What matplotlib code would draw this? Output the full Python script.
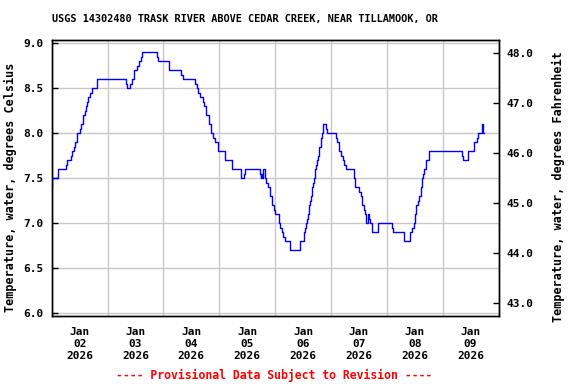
import matplotlib
matplotlib.use("Agg")
import matplotlib.pyplot as plt
import pandas as pd

# change points of the 15-minute record (value holds until next time)
times = [
    "01-02 00:00", "01-02 00:15", "01-02 02:30", "01-02 02:45", "01-02 06:00", "01-02 06:30",
    "01-02 08:15", "01-02 08:45", "01-02 09:30", "01-02 10:00", "01-02 11:00", "01-02 12:00",
    "01-02 12:45", "01-02 13:15", "01-02 14:30", "01-02 14:45", "01-02 15:15", "01-02 15:45",
    "01-02 16:30", "01-02 17:30", "01-02 19:30", "01-03 08:00", "01-03 08:30", "01-03 09:45",
    "01-03 10:30", "01-03 11:30", "01-03 12:45", "01-03 13:30", "01-03 14:15", "01-03 14:45",
    "01-03 21:15", "01-03 21:45", "01-04 02:30", "01-04 07:45", "01-04 08:15", "01-04 13:30",
    "01-04 14:15", "01-04 15:00", "01-04 15:45", "01-04 17:00", "01-04 17:30", "01-04 18:15",
    "01-04 19:30", "01-04 20:30", "01-04 21:30", "01-04 22:00", "01-04 23:30", "01-05 02:30",
    "01-05 05:30", "01-05 09:15", "01-05 10:30", "01-05 11:00", "01-05 17:30", "01-05 17:45",
    "01-05 18:00", "01-05 18:30", "01-05 18:45", "01-05 19:45", "01-05 20:00", "01-05 20:45",
    "01-05 21:45", "01-05 22:30", "01-05 23:30", "01-06 00:00", "01-06 01:30", "01-06 01:45",
    "01-06 02:15", "01-06 02:45", "01-06 03:30", "01-06 04:15", "01-06 06:15", "01-06 10:30",
    "01-06 12:15", "01-06 12:45", "01-06 13:15", "01-06 13:45", "01-06 14:00", "01-06 14:30",
    "01-06 14:45", "01-06 15:00", "01-06 15:30", "01-06 15:45", "01-06 16:00", "01-06 16:15",
    "01-06 16:30", "01-06 17:00", "01-06 17:15", "01-06 17:30", "01-06 18:00", "01-06 18:30",
    "01-06 18:45", "01-06 19:00", "01-06 19:30", "01-06 19:45", "01-06 20:15", "01-06 20:30",
    "01-06 20:45", "01-06 21:45", "01-06 22:30", "01-07 02:00", "01-07 02:30", "01-07 03:15",
    "01-07 04:30", "01-07 05:00", "01-07 05:45", "01-07 06:30", "01-07 09:45", "01-07 10:30",
    "01-07 12:00", "01-07 12:45", "01-07 13:30", "01-07 14:15", "01-07 14:30", "01-07 15:00",
    "01-07 15:45", "01-07 16:30", "01-07 16:45", "01-07 17:45", "01-07 20:00", "01-08 02:15",
    "01-08 02:45", "01-08 07:30", "01-08 09:45", "01-08 10:45", "01-08 11:30", "01-08 12:00",
    "01-08 12:45", "01-08 13:30", "01-08 13:45", "01-08 14:30", "01-08 15:00", "01-08 15:30",
    "01-08 16:00", "01-08 17:00", "01-08 18:15", "01-09 08:15", "01-09 08:45", "01-09 11:00",
    "01-09 13:30", "01-09 14:45", "01-09 15:15", "01-09 16:45", "01-09 17:15", "01-09 17:45",
]
temp_c = [
    7.4, 7.5, 7.55, 7.6, 7.65, 7.7, 7.75, 7.8, 7.85, 7.9, 8.0, 8.05,
    8.1, 8.2, 8.25, 8.3, 8.35, 8.4, 8.45, 8.5, 8.6, 8.55, 8.5, 8.55,
    8.6, 8.7, 8.75, 8.8, 8.85, 8.9, 8.85, 8.8, 8.7, 8.65, 8.6, 8.55,
    8.5, 8.45, 8.4, 8.35, 8.3, 8.2, 8.1, 8.0, 7.95, 7.9, 7.8, 7.7,
    7.6, 7.5, 7.55, 7.6, 7.55, 7.5, 7.55, 7.5, 7.6, 7.5, 7.45, 7.4,
    7.3, 7.2, 7.15, 7.1, 7.05, 7.0, 6.95, 6.9, 6.85, 6.8, 6.7, 6.8,
    6.9, 6.95, 7.0, 7.05, 7.1, 7.15, 7.2, 7.25, 7.3, 7.35, 7.4, 7.45,
    7.5, 7.55, 7.6, 7.65, 7.7, 7.75, 7.8, 7.85, 7.9, 7.95, 8.0, 8.05,
    8.1, 8.05, 8.0, 7.95, 7.9, 7.8, 7.75, 7.7, 7.65, 7.6, 7.5, 7.4,
    7.35, 7.3, 7.2, 7.15, 7.1, 7.0, 7.1, 7.05, 7.0, 6.9, 7.0, 6.95,
    6.9, 6.8, 6.9, 6.95, 7.0, 7.1, 7.2, 7.25, 7.3, 7.4, 7.5, 7.55,
    7.6, 7.7, 7.8, 7.75, 7.7, 7.8, 7.9, 7.95, 8.0, 8.1, 8.0, 8.0,
]
day_labels = ["Jan\n02\n2026", "Jan\n03\n2026", "Jan\n04\n2026", "Jan\n05\n2026",
              "Jan\n06\n2026", "Jan\n07\n2026", "Jan\n08\n2026", "Jan\n09\n2026"]
c_ticks = [6.0, 6.5, 7.0, 7.5, 8.0, 8.5, 9.0]
f_ticks = [43.0, 44.0, 45.0, 46.0, 47.0, 48.0]

t = pd.to_datetime(["2026-" + s for s in times])
plt.rcParams["font.family"] = "DejaVu Sans Mono"
plt.rcParams["font.weight"] = "bold"

fig = plt.figure(figsize=(5.76, 3.84), dpi=100)
ax = fig.add_axes([0.0898, 0.1771, 0.7757, 0.7188])
ax.plot(t, temp_c, drawstyle="steps-post", color="#0000ff", lw=1.0, zorder=3)

x0, x1 = pd.Timestamp("2026-01-02"), pd.Timestamp("2026-01-10")
ax.set_xlim(x0, x1)
ylo, yhi = 5.97, 9.037
ax.set_ylim(ylo, yhi)

# gridlines at midnight, date labels centred on each day
days = pd.date_range(x0, x1, freq="D")
ax.set_xticks(days)
ax.set_xticklabels([])
ax.set_xticks(days[:-1] + pd.Timedelta(hours=12), minor=True)
ax.set_xticklabels(day_labels, minor=True, fontsize=8, fontweight="bold", linespacing=1.25)
ax.tick_params(axis="x", which="both", length=0, pad=8)
ax.grid(True, axis="x", which="major", color="#c8c8c8", lw=1)

ax.set_yticks(c_ticks)
ax.set_yticklabels([f"{v:.1f}" for v in c_ticks], fontsize=8, fontweight="bold")
ax.tick_params(axis="y", direction="in", length=4, width=1, pad=6)
ax.grid(True, axis="y", color="#c8c8c8", lw=1)
ax.set_axisbelow(True)
ax.set_ylabel("Temperature, water, degrees Celsius", fontsize=8.5, fontweight="bold")
ax.yaxis.set_label_coords(-0.077, 0.467)

ax2 = ax.twinx()
ax2.set_ylim(ylo * 9 / 5 + 32, yhi * 9 / 5 + 32)
ax2.set_yticks(f_ticks)
ax2.set_yticklabels([f"{v:.1f}" for v in f_ticks], fontsize=8, fontweight="bold")
ax2.tick_params(axis="y", direction="in", length=4, width=1, pad=6)
ax2.set_ylabel("Temperature, water, degrees Fahrenheit", fontsize=8.5, fontweight="bold")
ax2.yaxis.set_label_coords(1.12, 0.467)

for a in (ax, ax2):
    for s in a.spines.values():
        s.set_linewidth(1)
        s.set_color("black")

fig.text(245 / 576, 1 - 19 / 384, "USGS 14302480 TRASK RIVER ABOVE CEDAR CREEK, NEAR TILLAMOOK, OR",
         ha="center", va="center", fontsize=7.4, fontweight="bold")
fig.text(274 / 576, 1 - 375 / 384, "---- Provisional Data Subject to Revision ----",
         ha="center", va="center", fontsize=8.3, fontweight="bold", color="red")

fig.savefig("out.png", dpi=100)
